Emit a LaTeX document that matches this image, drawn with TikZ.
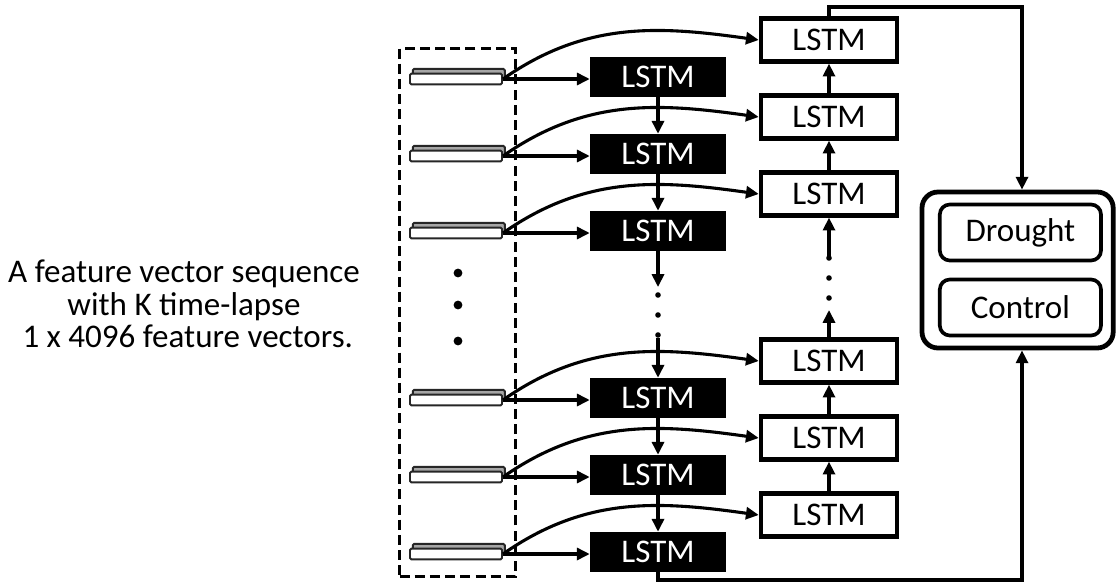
\documentclass[tikz,border=0pt]{standalone}
\usepackage{fontspec}
\setmainfont{Carlito}
\usepackage{tikz}
\usetikzlibrary{
  arrows.meta, positioning,
  calc, shadows
}
\newcommand{\cellfont}{\fontsize{23.5}{24}\selectfont}
\newcommand{\notefont}{\fontsize{23.5}{23}\selectfont}
\tikzset{
  lstmB/.style={rectangle, fill=black, text=white,
    minimum width=3.4cm, minimum height=1.0cm,
    inner sep=0pt, font=\cellfont},
  lstmW/.style={rectangle, draw=black, fill=white, line width=3.2pt,
    minimum width=3.4cm, minimum height=1.07cm,
    inner sep=0pt, font=\cellfont},
  fvec/.style={rectangle, draw=gray!30!black, fill=white,
    line width=1.4pt, rounded corners=1pt,
    minimum width=2.3cm, minimum height=0.27cm, inner sep=0pt,
    copy shadow={shadow xshift=0.07cm, shadow yshift=0.12cm,
      fill=gray!70, draw=gray!30!black}},
  outbox/.style={rectangle, draw=black, line width=3.4pt,
    rounded corners=0.4cm, minimum width=4.78cm, minimum height=3.9cm},
  clsbox/.style={rectangle, draw=black, line width=2.6pt,
    rounded corners=0.25cm, minimum width=4.03cm, minimum height=1.4cm,
    inner sep=0pt, font=\cellfont},
  arr/.style={->, >={Triangle[length=0.32cm, width=0.3cm]},
    line width=2.2pt},
}

\begin{document}
\begin{tikzpicture}
  \useasboundingbox (0,0) rectangle (28,-14.575);

  % -- Input sequence --
  \node[align=center, font=\notefont] (desc) at (4.6,-7.6)
       {A feature vector sequence\\ with K time-lapse\\ \ 1 x 4096 feature vectors.};
  \node[draw, line width=2.5pt, dash pattern=on 0.25cm off 0.13cm,
        minimum width=2.9cm, minimum height=13.2cm] (seq) at (11.4375,-7.8125) {};
  \node[fvec] (v1) at (11.4,-1.975)  {};
  \node[fvec] (v2) at (11.4,-3.9)    {};
  \node[fvec] (v3) at (11.4,-5.825)  {};
  \node[fvec] (v4) at (11.4,-10.0)   {};
  \node[fvec] (v5) at (11.4,-11.925) {};
  \node[fvec] (v6) at (11.4,-13.85)  {};
  \fill (11.45,-6.825) circle (0.11);
  \fill (11.45,-7.625) circle (0.11);
  \fill (11.45,-8.525) circle (0.11);

  % -- Forward LSTM column --
  \node[lstmB] (b1) at (16.45,-1.925)  {LSTM};
  \node[lstmB] (b2) at (16.45,-3.85)   {LSTM};
  \node[lstmB] (b3) at (16.45,-5.775)  {LSTM};
  \node[lstmB] (b4) at (16.45,-9.95)   {LSTM};
  \node[lstmB] (b5) at (16.45,-11.875) {LSTM};
  \node[lstmB] (b6) at (16.45,-13.8)   {LSTM};

  % -- Backward LSTM column --
  \node[lstmW] (w1) at (20.725,-1.0)    {LSTM};
  \node[lstmW] (w2) at (20.725,-2.925)  {LSTM};
  \node[lstmW] (w3) at (20.725,-4.85)   {LSTM};
  \node[lstmW] (w4) at (20.725,-9.025)  {LSTM};
  \node[lstmW] (w5) at (20.725,-10.95)  {LSTM};
  \node[lstmW] (w6) at (20.725,-12.875) {LSTM};

  % -- Classes --
  \node[outbox] (out) at (25.44,-6.75) {};
  \node[clsbox] (drought) at (25.51,-5.8125) {Drought};
  \node[clsbox] (control) at (25.51,-7.6875) {Control};

  % inputs to both columns
  \draw[arr] (v1.east) -- (v1.east -| b1.west);
  \draw[arr] (v2.east) -- (v2.east -| b2.west);
  \draw[arr] (v3.east) -- (v3.east -| b3.west);
  \draw[arr] (v4.east) -- (v4.east -| b4.west);
  \draw[arr] (v5.east) -- (v5.east -| b5.west);
  \draw[arr] (v6.east) -- (v6.east -| b6.west);
  \draw[arr] (v1.east) to[out=35, in=172] (w1.west);
  \draw[arr] (v2.east) to[out=35, in=172] (w2.west);
  \draw[arr] (v3.east) to[out=35, in=172] (w3.west);
  \draw[arr] (v4.east) to[out=35, in=172] (w4.west);
  \draw[arr] (v5.east) to[out=35, in=172] (w5.west);
  \draw[arr] (v6.east) to[out=35, in=172] (w6.west);

  % forward chain
  \coordinate (bGapA) at (16.45,-7.175);
  \coordinate (bGapB) at (16.45,-8.45);
  \draw[arr] (b1) -- (b2);
  \draw[arr] (b2) -- (b3);
  \draw[arr] (b3) -- (bGapA);
  \fill (16.45,-7.375) circle (0.07);
  \fill (16.45,-7.875) circle (0.07);
  \fill (16.45,-8.375) circle (0.07);
  \draw[arr] (bGapB) -- (b4);
  \draw[arr] (b4) -- (b5);
  \draw[arr] (b5) -- (b6);

  % backward chain
  \coordinate (wGapA) at (20.725,-7.75);
  \coordinate (wGapB) at (20.725,-6.4);
  \draw[arr] (w6) -- (w5);
  \draw[arr] (w5) -- (w4);
  \draw[arr] (w4) -- (wGapA);
  \fill (20.725,-7.45) circle (0.07);
  \fill (20.725,-6.95) circle (0.07);
  \fill (20.725,-6.45) circle (0.07);
  \draw[arr] (wGapB) -- (w3);
  \draw[arr] (w3) -- (w2);
  \draw[arr] (w2) -- (w1);

  % to the classifier
  \coordinate (topR) at (25.55,-0.175);
  \coordinate (botR) at (25.55,-14.5);
  \draw[arr] (w1.north) |- (topR) -- (topR |- out.north);
  \draw[arr] (b6.south) |- (botR) -- (botR |- out.south);
\end{tikzpicture}
\end{document}
